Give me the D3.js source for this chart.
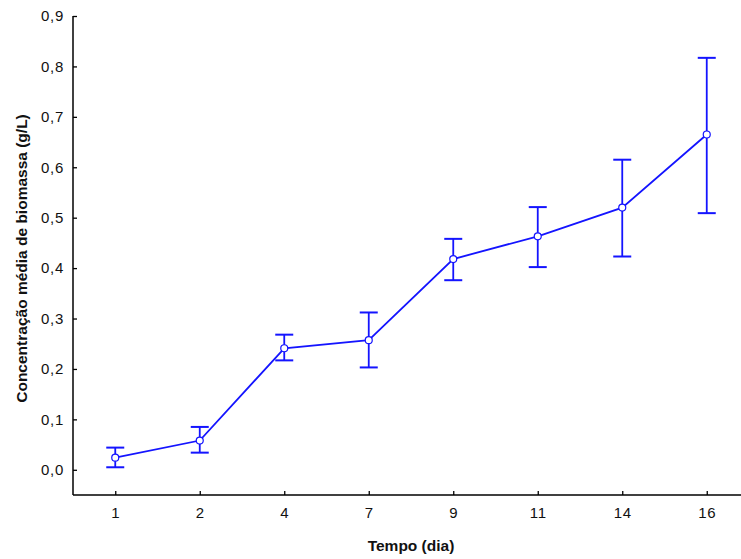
<!DOCTYPE html>
<html>
<head>
<meta charset="utf-8">
<script src="https://cdn.jsdelivr.net/npm/d3@7"></script>
<style>
body { margin:0; background:#fff; }
text { font-family: "Liberation Sans", Arial, sans-serif; }
</style>
</head>
<body>
<div id="chart"></div>
<script>
// tempo (dia) e concentração média de biomassa (g/L)
var dias = ["1", "2", "4", "7", "9", "11", "14", "16"];
var media = [0.024, 0.058, 0.241, 0.257, 0.418, 0.463, 0.520, 0.665];
var limSup = [0.044, 0.085, 0.268, 0.312, 0.458, 0.521, 0.615, 0.817];
var limInf = [0.005, 0.034, 0.217, 0.203, 0.376, 0.402, 0.423, 0.509];
var yTicks = [0, 0.1, 0.2, 0.3, 0.4, 0.5, 0.6, 0.7, 0.8, 0.9];

var width = 741, height = 559;
var left = 73, top_ = 16, bottom = 495, right = 749;
var cor = "#1414ff";

var svg = d3.select("#chart").append("svg")
    .attr("width", width)
    .attr("height", height);

var x = d3.scalePoint().domain(dias).range([left, right]).padding(0.5);
var y = d3.scaleLinear().domain([-0.05, 0.9]).range([bottom, top_]);

var fmt = function(d){ return d3.format(".1f")(d).replace(".", ","); };

// eixo y
var yAxis = svg.append("g")
    .attr("transform", "translate(" + left + ",0)")
    .call(d3.axisLeft(y).tickValues(yTicks).tickFormat(fmt).tickSizeInner(-4).tickSizeOuter(0).tickPadding(9));
yAxis.select(".domain").remove();
yAxis.selectAll(".tick line").attr("stroke", "#000").attr("stroke-width", 1.3);
yAxis.selectAll("text").attr("font-size", 15).attr("letter-spacing", 0.7).attr("fill", "#111");
svg.append("line")
    .attr("x1", left).attr("x2", left)
    .attr("y1", top_).attr("y2", bottom)
    .attr("stroke", "#000").attr("stroke-width", 1.5);

// eixo x
var xAxis = svg.append("g")
    .attr("transform", "translate(0," + bottom + ")")
    .call(d3.axisBottom(x).tickSizeInner(-4).tickSizeOuter(0).tickPadding(12));
xAxis.select(".domain").remove();
xAxis.selectAll(".tick line").attr("stroke", "#000").attr("stroke-width", 1.3);
xAxis.selectAll("text").attr("font-size", 15).attr("letter-spacing", 0.7).attr("fill", "#111");
svg.append("line")
    .attr("x1", left).attr("x2", width)
    .attr("y1", bottom).attr("y2", bottom)
    .attr("stroke", "#000").attr("stroke-width", 1.5);

// títulos
svg.append("text")
    .attr("x", (left + right) / 2)
    .attr("y", 551)
    .attr("text-anchor", "middle")
    .attr("font-size", 15.5)
    .attr("font-weight", "bold")
    .attr("fill", "#111")
    .text("Tempo (dia)");

svg.append("text")
    .attr("transform", "translate(27," + ((top_ + bottom) / 2 + 3) + ") rotate(-90)")
    .attr("text-anchor", "middle")
    .attr("font-size", 15.5)
    .attr("font-weight", "bold")
    .attr("fill", "#111")
    .text("Concentração média de biomassa (g/L)");

var data = dias.map(function(d, i){
    return { dia: d, m: media[i], sup: limSup[i], inf: limInf[i] };
});

// barras de erro
var err = svg.selectAll(".err").data(data).enter().append("g").attr("class", "err");
err.append("line")
    .attr("x1", function(d){ return x(d.dia); })
    .attr("x2", function(d){ return x(d.dia); })
    .attr("y1", function(d){ return y(d.sup); })
    .attr("y2", function(d){ return y(d.inf); })
    .attr("stroke", cor).attr("stroke-width", 1.8);
["sup", "inf"].forEach(function(k){
    err.append("line")
        .attr("x1", function(d){ return x(d.dia) - 9; })
        .attr("x2", function(d){ return x(d.dia) + 9; })
        .attr("y1", function(d){ return y(d[k]); })
        .attr("y2", function(d){ return y(d[k]); })
        .attr("stroke", cor).attr("stroke-width", 2);
});

// linha
var line = d3.line()
    .x(function(d){ return x(d.dia); })
    .y(function(d){ return y(d.m); });
svg.append("path")
    .datum(data)
    .attr("d", line)
    .attr("fill", "none")
    .attr("stroke", cor)
    .attr("stroke-width", 1.8);

svg.selectAll(".pt").data(data).enter().append("circle")
    .attr("class", "pt")
    .attr("cx", function(d){ return x(d.dia); })
    .attr("cy", function(d){ return y(d.m); })
    .attr("r", 3.5)
    .attr("fill", "#fff")
    .attr("stroke", cor)
    .attr("stroke-width", 1.2);
</script>
</body>
</html>
